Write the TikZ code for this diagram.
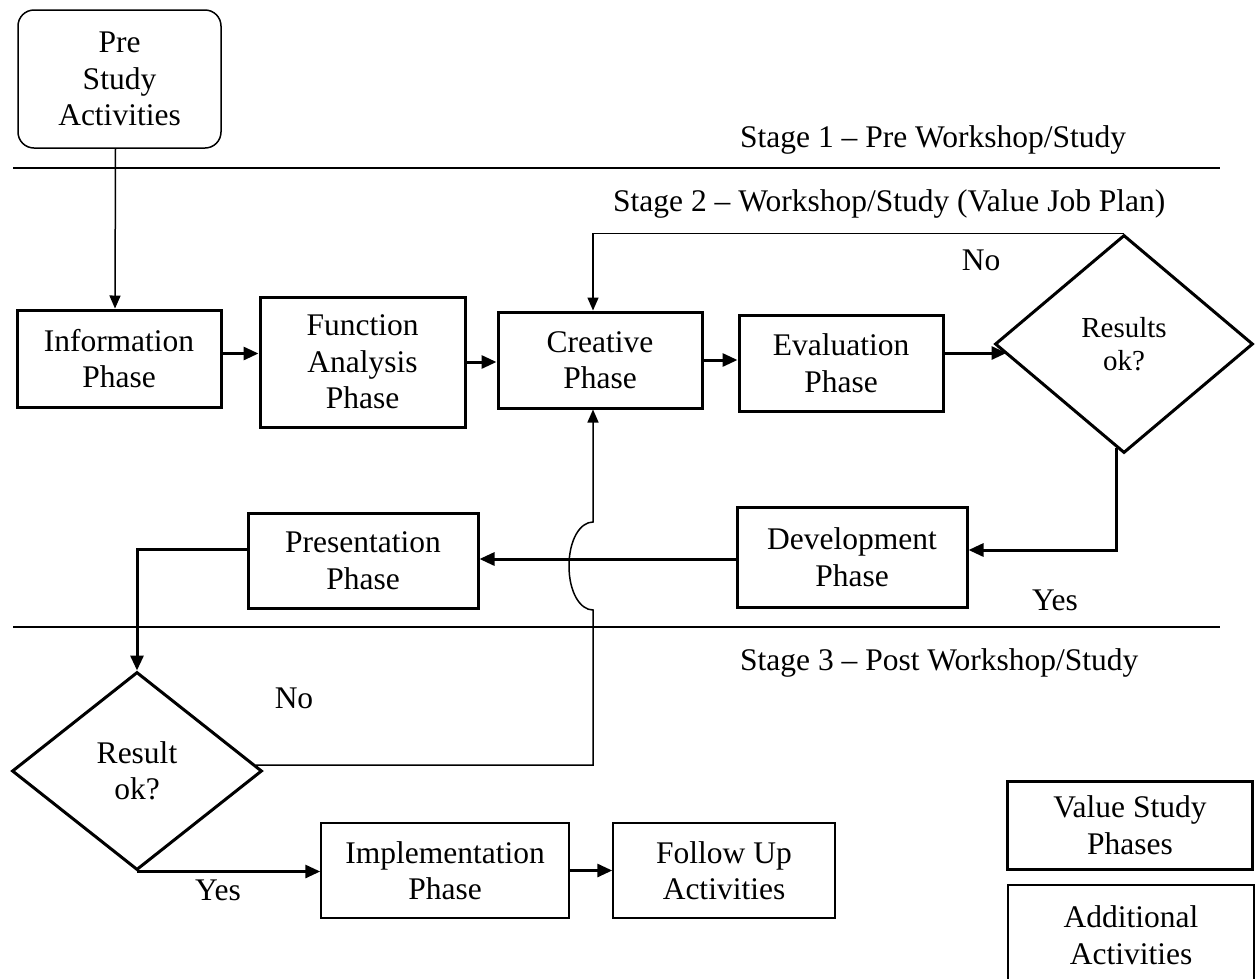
\documentclass[tikz,border=0pt]{standalone}
\usepackage{fontspec}
\setmainfont{Liberation Serif}
\usetikzlibrary{shapes.geometric,arrows.meta,calc}
\begin{document}
\begin{tikzpicture}[x=1pt,y=-1pt,
  txt/.style={font=\fontsize{31.5}{36.5}\selectfont, align=center},
  smalltxt/.style={font=\fontsize{29}{33}\selectfont, align=center},
  phase/.style={draw, line width=3pt, txt, inner sep=0pt},
  addbox/.style={draw, line width=1.5pt, txt, inner sep=0pt},
  decision/.style={draw, diamond, line width=3pt, smalltxt, inner sep=0pt},
  thickarrow/.style={line width=3pt, -{Triangle[length=15pt,width=13pt]}},
  thinarrow/.style={line width=1.5pt, -{Triangle[length=13pt,width=11pt]}},
  stageline/.style={line width=2pt},
  lbl/.style={txt, inner sep=0pt}
]
\useasboundingbox (0,0) rectangle (1255,978);

% stage separators
\coordinate (l1a) at (13,168);
\coordinate (l1b) at (1220,168);
\coordinate (l2a) at (13,627);
\coordinate (l2b) at (1220,627);
\draw[stageline] (l1a) -- (l1b);
\draw[stageline] (l2a) -- (l2b);

\node[txt, anchor=base west, inner sep=0pt] (s1) at (740,147) {Stage 1 – Pre Workshop/Study};
\node[txt, anchor=base west, inner sep=0pt] (s2) at (613,211) {Stage 2 – Workshop/Study (Value Job Plan)};
\node[txt, anchor=base west, inner sep=0pt] (s3) at (740,670) {Stage 3 – Post Workshop/Study};

% nodes
\node[draw, line width=1.5pt, rounded corners=16pt, txt, inner sep=0pt,
      minimum width=203pt, minimum height=138pt] (pre) at (119.5,79) {Pre\\Study\\Activities};
\node[phase, minimum width=204pt, minimum height=97pt] (info) at (119,358.5) {Information\\Phase};
\node[phase, minimum width=205pt, minimum height=130pt] (func) at (362.5,362) {Function\\Analysis\\Phase};
\node[phase, minimum width=204pt, minimum height=96pt] (crea) at (600,360) {Creative\\Phase};
\node[phase, minimum width=204pt, minimum height=96pt] (eval) at (841,363) {Evaluation\\Phase};
\node[decision, minimum width=258pt, minimum height=218pt, aspect=1.18] (d1) at (1124,344) {Results\\ok?};
\node[phase, minimum width=230pt, minimum height=100pt] (dev) at (852,557) {Development\\Phase};
\node[phase, minimum width=230pt, minimum height=95pt] (pres) at (363,560.5) {Presentation\\Phase};
\node[decision, txt, minimum width=250pt, minimum height=198pt, aspect=1.26] (d2) at (137,771) {Result\\ok?};
\node[addbox, minimum width=248pt, minimum height=95pt] (impl) at (445,870.5) {Implementation\\Phase};
\node[addbox, minimum width=222pt, minimum height=95pt] (foll) at (724,870.5) {Follow Up\\Activities};
\node[phase, minimum width=245pt, minimum height=88pt] (leg1) at (1130,825) {Value Study\\Phases};
\node[addbox, minimum width=246pt, minimum height=100pt] (leg2) at (1131,935) {Additional\\Activities};

% labels
\node[lbl] (no1) at (981,260) {No};
\node[lbl] (yes1) at (1055,600) {Yes};
\node[lbl] (no2) at (294,698) {No};
\node[lbl] (yes2) at (218,890) {Yes};

% connectors
\draw[thinarrow] ([xshift=-4pt]pre.south) -- ([xshift=-4pt]info.north);
\draw[thickarrow] ([yshift=5pt]info.east) -- ([yshift=5pt]info.east -| func.west);
\draw[thickarrow] (func.east) -- (func.east -| crea.west);
\draw[thickarrow] (crea.east) -- (crea.east -| eval.west);
\draw[thickarrow] ([yshift=10pt]eval.east) -- ++(62,0);
\coordinate (d1out) at ($(d1.south)+(-8,-7)$);
\draw[thickarrow] (d1out) |- ([yshift=7pt]dev.east);
\draw[thickarrow] ([yshift=-2pt]dev.west) -- ([yshift=-2pt]dev.west -| pres.east);
\draw[thickarrow] ([yshift=11pt]pres.west) -| (d2.north);
\draw[thickarrow] (d2.south) -- (d2.south -| impl.west);
\draw[thickarrow] (impl.east) -- (impl.east -| foll.west);

% No loop (top)
\draw[thinarrow] (d1.north) -| ([xshift=-7pt]crea.north);

% No loop (bottom) with hop over the horizontal connector
\coordinate (d2out) at ($(d2.east)+(-8,-6)$);
\coordinate (hopB) at (593,610);
\coordinate (hopT) at (593,522);
\draw[thinarrow] (d2out) -| (hopB)
   .. controls (580,610) and (569,592) .. (569,566)
   .. controls (569,540) and (580,522) .. (hopT)
   -- ([xshift=-7pt]crea.south);
\end{tikzpicture}
\end{document}
